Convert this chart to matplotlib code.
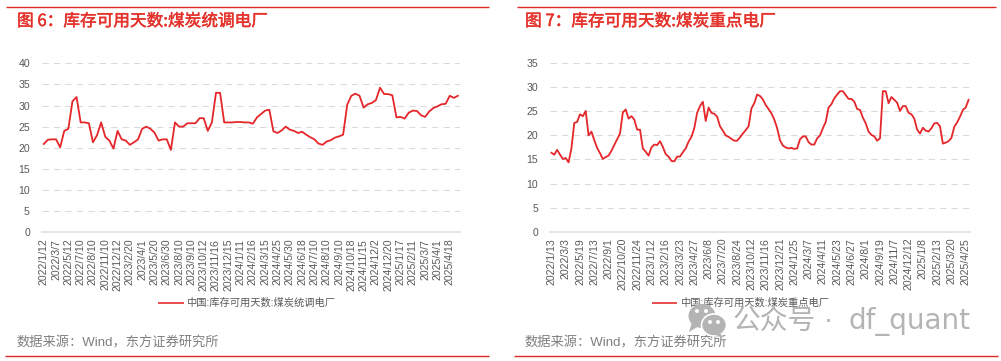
import matplotlib
matplotlib.use("Agg")
import matplotlib.pyplot as plt
import matplotlib.patheffects as pe
from matplotlib.patches import Ellipse, Polygon
import numpy as np

plt.rcParams['font.family'] = ['Liberation Sans', 'Noto Sans CJK SC', 'DejaVu Sans']

values_left = [20.9,21.9,22,22,20.1,24,24.5,31,32,26,26,25.8,21.3,23,26,22.6,21.7,19.8,24,22,
               21.7,20.7,21.3,22,24.5,25,24.5,23.6,21.7,22,22,19.5,26,25,25,25.8,25.8,25.8,27,27,
               24,26,33,33,26,26,26,26.1,26.1,26,26,25.7,27.2,28,28.8,29,23.9,23.5,24.1,25,
               24.3,24,23.5,23.8,23.1,22.5,22,21,20.7,21.5,21.8,22.4,22.7,23.1,30.2,32.3,32.8,32.3,29.5,30.3,
               30.6,31.3,34.2,32.7,32.7,32.4,27.2,27.3,26.9,28.3,28.8,28.7,27.7,27.3,28.6,29.4,29.8,30.3,30.4,32.3,
               31.8,32.3]
labels_left = ['2022/1/12','2022/3/7','2022/5/12','2022/7/10','2022/8/10','2022/11/10','2022/12/12',
               '2023/2/20','2023/4/1','2023/5/20','2023/6/30','2023/8/10','2023/9/10','2023/10/12',
               '2023/11/16','2023/12/15','2024/1/11','2024/2/16','2024/3/15','2024/4/25','2024/5/30',
               '2024/6/18','2024/7/10','2024/8/10','2024/9/10','2024/10/18','2024/11/15','2024/12/2',
               '2024/12/20','2025/1/17','2025/2/11','2025/3/7','2025/4/1','2025/4/18']
yticks_left = [0,5,10,15,20,25,30,35,40]

values_right = [16.4,16,17,16,15.1,15.3,14.4,17.3,22.6,22.8,24.4,24,25.1,20,20.8,19,17.4,16.3,15.1,15.5,
                15.8,16.8,18,19.2,20.4,24.8,25.4,23.5,24,23.3,21.2,21.2,17.3,16.6,15.8,17.5,18.1,18,18.8,17.6,
                16.1,15.6,14.7,14.6,15.6,15.6,16.5,17.3,18.7,19.7,21.5,24.7,26.1,27,23,25.8,24.7,24.5,23.9,21.9,
                21,20,19.7,19.3,18.9,18.9,19.6,20.4,21.1,21.9,25.6,26.7,28.5,28.2,27.5,26.3,25.5,24.6,23.3,21.5,
                19,17.9,17.5,17.3,17.4,17.2,17.3,19.2,19.8,19.8,18.6,18.1,18.1,19.4,20,21.5,22.8,25.8,26.5,27.7,
                28.5,29.2,29.2,28.4,27.6,27.6,27,25.5,25.3,23.7,22.5,20.8,20.1,19.8,18.9,19.4,29.2,29.2,26.7,28,
                27.4,26.8,25.1,26.1,26.1,24.7,24.4,23.5,21.2,20.4,21.6,21,20.8,21.5,22.5,22.6,21.9,18.3,18.5,18.8,
                19.5,21.8,22.7,23.9,25.3,25.8,27.4]
labels_right = ['2022/1/13','2022/3/3','2022/5/19','2022/7/13','2022/9/1','2022/10/20','2022/11/24',
                '2023/1/12','2023/2/16','2023/3/23','2023/4/27','2023/6/8','2023/7/20','2023/8/24',
                '2023/10/12','2023/11/16','2023/12/21','2024/1/25','2024/3/7','2024/4/11','2024/5/23',
                '2024/6/27','2024/8/1','2024/9/19','2024/11/7','2024/12/12','2025/1/8','2025/2/13',
                '2025/3/20','2025/4/25']
yticks_right = [0,5,10,15,20,25,30,35]

title_left = '图 6：库存可用天数:煤炭统调电厂'
title_right = '图 7：库存可用天数:煤炭重点电厂'
legend_left = '中国:库存可用天数:煤炭统调电厂'
legend_right = '中国:库存可用天数:煤炭重点电厂'
source = '数据来源：Wind，东方证券研究所'

W, H = 1001, 361
RED = '#E5262A'
GRID = '#D9D9D9'
TXT = '#595959'
fig = plt.figure(figsize=(W/100, H/100), dpi=100, facecolor='white')


def panel(x0, x1, ytop, ybot, vals, labels, step, yticks):
    ax = fig.add_axes([x0/W, 1-ybot/H, (x1-x0)/W, (ybot-ytop)/H])
    x = np.arange(len(vals))
    ax.plot(x, vals, color=RED, lw=1.3, solid_joinstyle='round', zorder=3)
    ax.set_xlim(-0.5, len(vals)-0.5)
    ax.set_ylim(yticks[0], yticks[-1])
    ax.set_yticks(yticks)
    ax.set_xticks(x[::step][:len(labels)])
    ax.set_xticklabels(labels, rotation=90, ha='center', va='top')
    ax.tick_params(axis='both', length=0, labelsize=7.6, labelcolor=TXT)
    ax.tick_params(axis='y', pad=8.5)
    ax.tick_params(axis='x', pad=4.5)
    for s in ['top', 'right', 'left']:
        ax.spines[s].set_visible(False)
    ax.spines['bottom'].set_color('#E6E6E6')
    ax.spines['bottom'].set_linewidth(1.4)
    for t in yticks[1:]:
        ax.axhline(t, color=GRID, lw=0.75, dashes=(6, 5), zorder=1)
    ax.patch.set_alpha(0)
    return ax


panel(41.7, 460, 63.2, 232.4, values_left, labels_left, 3, yticks_left)
panel(550, 970, 63.3, 231.6, values_right, labels_right, 5, yticks_right)

ov = fig.add_axes([0, 0, 1, 1], zorder=5)
ov.set_xlim(0, W)
ov.set_ylim(H, 0)
ov.axis('off')

# frame rules
for xa, xb, xc, xd in [(6, 489, 5, 489), (517, 996, 514, 998)]:
    ov.plot([xa, xb], [7.3, 7.3], color='#DE2A22', lw=1.0, solid_capstyle='butt')
    ov.plot([xc, xd], [356, 356], color='#DE2A22', lw=1.0, solid_capstyle='butt')

# titles
for x, t in [(17, title_left), (525, title_right)]:
    ov.text(x, 21.5, t, color='#E5322B', fontsize=12.0, va='center', ha='left',
            family=['Noto Sans CJK SC', 'DejaVu Sans'],
            path_effects=[pe.withStroke(linewidth=0.35, foreground='#E5322B')])

# legends
for xa, xb, xt, t in [(158, 184, 186, legend_left), (652, 677, 680, legend_right)]:
    ov.plot([xa, xb], [303, 303], color='#E5262A', lw=1.15, solid_capstyle='butt')
    ov.text(xt, 303, t, color=TXT, fontsize=7.4, va='center', ha='left')

# source notes
for x in (17, 525):
    ov.text(x, 343, source, color='#7F7F7F', fontsize=9.55, va='center', ha='left')

# watermark
wm = '#B4B4B4'
ov.add_patch(Ellipse((702, 316), 27, 24, color=wm, lw=0, zorder=6))
ov.add_patch(Polygon([[692, 322], [689, 332], [699, 326]], closed=True, color=wm, lw=0, zorder=6))
ov.add_patch(Ellipse((714, 325), 25, 22, facecolor=wm, edgecolor='white', lw=1.2, zorder=7))
ov.add_patch(Polygon([[719, 331], [723, 338], [713, 334]], closed=True, color=wm, lw=0, zorder=7))
for (cx, cy) in [(697, 311), (706, 311), (710, 322), (718, 322)]:
    ov.add_patch(Ellipse((cx, cy), 4, 4, color='white', lw=0, zorder=8))
ov.text(733, 321, '公众号', color=wm, fontsize=20, va='center', ha='left', zorder=6,
        family=['Noto Sans CJK SC', 'DejaVu Sans'])
ov.text(828, 321, '·', color=wm, fontsize=20, va='center', ha='center', zorder=6)
ov.text(849, 321, 'df_quant', color=wm, fontsize=20, va='center', ha='left', zorder=6,
        family=['DejaVu Sans'])

fig.savefig('out.png', dpi=100, facecolor='white')
